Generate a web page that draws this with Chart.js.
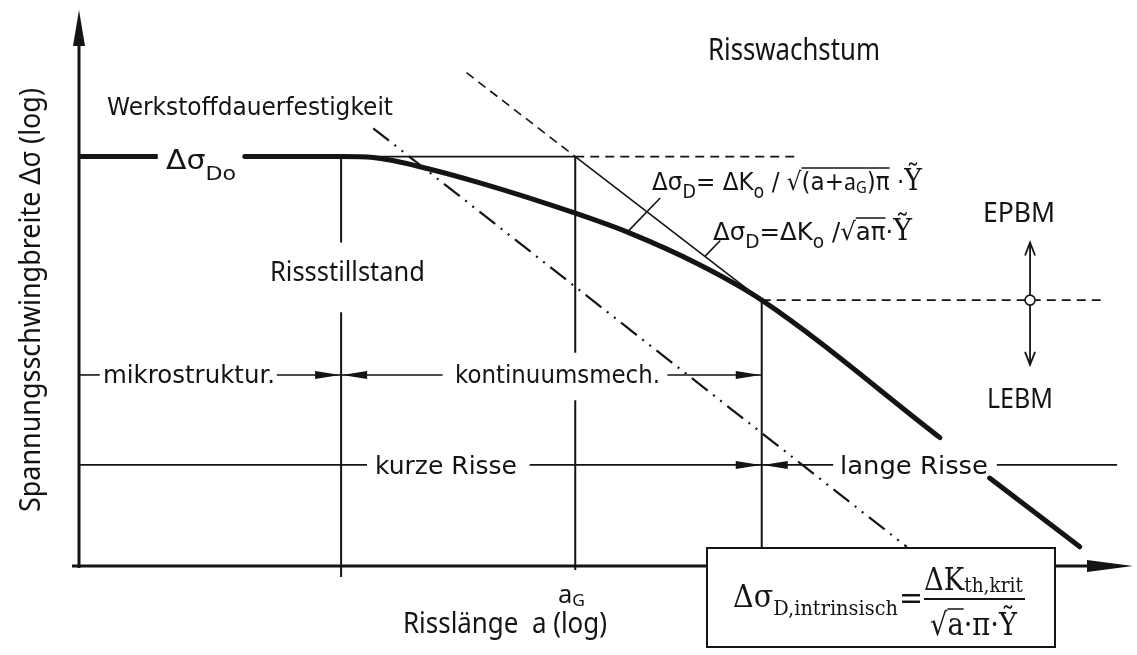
<!DOCTYPE html>
<html lang="de">
<head>
<meta charset="utf-8">
<title>Rissstillstand und Risswachstum</title>
<script src="https://cdn.jsdelivr.net/npm/chart.js@4.4.1/dist/chart.umd.min.js"></script>
<style>
  html, body { margin: 0; padding: 0; background: #fff; }
  #wrap { width: 1137px; height: 655px; }
</style>
</head>
<body>
<div id="wrap"><canvas id="kitagawa" width="1137" height="655"></canvas></div>
<script>
// schematische Achsen: x = log a, y = log Δσ
const achseA = [0, 100];
const achseS = [0, 55];

// Bereichsgrenzen: mikrostruktur. | a_G | lange Risse
const grenzenA = [25.3, 47.9, 65.9];
// Δσ_D0 und Übergang EPBM/LEBM
const niveauS = [40.5, 26.3];

// Dauerfestigkeitskurve (dick)
const kurveStartA = [0, 7.6];
const kurveA = [16.0, 25.3, 28.4, 32.9, 38.7, 47.9, 53.0, 59.9, 65.9, 83.1];
const kurveS = [40.5, 40.5, 40.4, 39.5, 37.9, 34.9, 33.0, 29.8, 26.3, 12.7];
const kurveEndeA = [87.9, 96.6];
const kurveEndeS = [8.7, 1.9];

// Tangente ΔK0 / sqrt(a π), oberes Stück gestrichelt
const tangenteA = [37.4, 47.9, 65.9];
const tangenteS = [48.8, 40.5, 26.3];

// Werkstoffdauerfestigkeit (Strich-Punkt-Punkt)
const intrinsA = [28.4, 79.9];
const intrinsS = [43.3, 1.9];

// waagerechte Linien auf Höhe Δσ_D0 und am Übergang
const niveauLinieA = [25.3, 47.9];
const niveauStrichA = [47.9, 69.3];
const uebergangA = [65.9, 99.0];

// Zeilen mit Bereichspfeilen
const zeilenS = [18.9, 10.0];
const zeileMikroA = [[0, 2.0], [19.1, 25.3], [25.3, 35.1], [56.8, 65.9]];
const zeileRisseA = [[0, 27.8], [43.5, 65.9], [65.9, 72.8], [88.6, 100.2]];

// senkrechte Linien je Bereichsgrenze (Lücken für Beschriftung)
const vertMikroS = [[40.5, 32.0], [25.1, -1.1]];
const vertGrenzS = [[40.5, 21.1], [16.4, -0.4]];
const vertLangS = [[26.3, 1.8]];

// EPBM / LEBM Doppelpfeil
const bruchA = 91.8;
const bruchS = [32.0, 19.9];

// Hinweislinien zu den Formeln
const hinweisA = [[52.9, 56.1], [60.4, 61.9]];
const hinweisS = [[33.0, 36.4], [30.6, 32.2]];

const SCHWARZ = '#141414';
const DIN = '"DejaVu Sans"';
const SANS = '"Noto Sans"';
const SERIF = '"DejaVu Serif"';

function punkte(xs, ys) {
    return xs.map((x, i) => ({ x: x, y: ys[i] }));
}

function linie(xs, ys, breite, strich) {
    return {
        data: punkte(xs, ys),
        showLine: true,
        borderColor: SCHWARZ,
        borderWidth: breite,
        borderDash: strich || [],
        pointRadius: 0,
        fill: false,
        clip: false
    };
}

const datasets = [];
// Kurve
datasets.push(linie(kurveStartA, [niveauS[0], niveauS[0]], 5));
const kurve = linie(kurveA, kurveS, 5);
kurve.cubicInterpolationMode = 'monotone';
kurve.borderCapStyle = 'round';
datasets.push(kurve);
const ende = linie(kurveEndeA, kurveEndeS, 5);
ende.borderCapStyle = 'round';
datasets.push(ende);
// Tangente
datasets.push(linie(tangenteA.slice(0, 2), tangenteS.slice(0, 2), 1.6, [9, 6]));
datasets.push(linie(tangenteA.slice(1), tangenteS.slice(1), 1.6));
// Werkstoffdauerfestigkeit
datasets.push(linie(intrinsA, intrinsS, 2.2, [20, 7, 2, 7, 2, 7]));
// Waagerechte
datasets.push(linie(niveauLinieA, [niveauS[0], niveauS[0]], 1.6));
datasets.push(linie(niveauStrichA, [niveauS[0], niveauS[0]], 1.6, [9, 6]));
datasets.push(linie(uebergangA, [niveauS[1], niveauS[1]], 1.6, [9, 6]));
// Zeilen
zeileMikroA.forEach(seg => datasets.push(linie(seg, [zeilenS[0], zeilenS[0]], 1.6)));
zeileRisseA.forEach(seg => datasets.push(linie(seg, [zeilenS[1], zeilenS[1]], 1.6)));
// Senkrechte
vertMikroS.forEach(seg => datasets.push(linie([grenzenA[0], grenzenA[0]], seg, 2)));
vertGrenzS.forEach(seg => datasets.push(linie([grenzenA[1], grenzenA[1]], seg, 2)));
vertLangS.forEach(seg => datasets.push(linie([grenzenA[2], grenzenA[2]], seg, 2)));
// EPBM/LEBM
datasets.push(linie([bruchA, bruchA], bruchS, 1.8));
hinweisA.forEach((xs, i) => datasets.push(linie(xs, hinweisS[i], 1.6)));
// Kreis am Übergang
datasets.push({
    data: [{ x: bruchA, y: niveauS[1] }],
    showLine: false,
    pointRadius: 5,
    pointBackgroundColor: '#fff',
    pointBorderColor: SCHWARZ,
    pointBorderWidth: 1.6,
    clip: false,
    order: -1
});

// Text aus mehreren Teilen, horizontal auf eine Breite gebracht
function schreibe(ctx, teile, x, y, breite, opt) {
    opt = opt || {};
    let gesamt = 0;
    teile.forEach(t => {
        ctx.font = t.f;
        t.w = ctx.measureText(t.t).width;
        gesamt += t.w;
    });
    const k = breite ? breite / gesamt : 1;
    ctx.save();
    ctx.translate(x, y);
    if (opt.rot) ctx.rotate(opt.rot);
    ctx.scale(k, 1);
    ctx.fillStyle = opt.farbe || SCHWARZ;
    ctx.strokeStyle = SCHWARZ;
    ctx.textBaseline = 'alphabetic';
    ctx.textAlign = 'left';
    let cx = 0;
    teile.forEach(t => {
        ctx.font = t.f;
        ctx.fillText(t.t, cx, t.dy || 0);
        if (t.ueber !== undefined) {
            ctx.lineWidth = 1.5;
            ctx.beginPath();
            ctx.moveTo(cx, t.ueber);
            ctx.lineTo(cx + t.w, t.ueber);
            ctx.stroke();
        }
        cx += t.w;
    });
    ctx.restore();
}

function pfeil(ctx, x, y, dx, dy, len, halb) {
    ctx.beginPath();
    ctx.moveTo(x, y);
    ctx.lineTo(x - dx * len - dy * halb, y - dy * len - dx * halb);
    ctx.lineTo(x - dx * len + dy * halb, y - dy * len + dx * halb);
    ctx.closePath();
    ctx.fill();
}

function spitze(ctx, x, y, dy) {
    ctx.beginPath();
    ctx.moveTo(x - 5, y - dy * 13);
    ctx.lineTo(x, y);
    ctx.lineTo(x + 5, y - dy * 13);
    ctx.stroke();
}

const hintergrund = {
    id: 'hintergrund',
    beforeDraw(chart) {
        const ctx = chart.ctx;
        ctx.save();
        ctx.fillStyle = '#fff';
        ctx.fillRect(0, 0, chart.width, chart.height);
        ctx.restore();
    }
};

const beschriftung = {
    id: 'beschriftung',
    afterDatasetsDraw(chart) {
        const ctx = chart.ctx;
        const X = v => chart.scales.x.getPixelForValue(v);
        const Y = v => chart.scales.y.getPixelForValue(v);
        ctx.save();
        ctx.fillStyle = SCHWARZ;
        ctx.strokeStyle = SCHWARZ;

        // Achsen mit Pfeilen
        const x0 = X(achseA[0]), y0 = Y(achseS[0]);
        const yTop = Y(achseS[1]);
        const xEnd = X(achseA[1]) + 18;
        ctx.lineWidth = 3;
        ctx.beginPath();
        ctx.moveTo(x0, y0 + 2);
        ctx.lineTo(x0, yTop + 20);
        ctx.moveTo(x0 - 7, y0);
        ctx.lineTo(xEnd - 20, y0);
        ctx.stroke();
        pfeil(ctx, x0, yTop, 0, -1, 36, 6);
        pfeil(ctx, xEnd, y0, 1, 0, 46, 6);

        // Bereichspfeile
        const ym = Y(zeilenS[0]), yr = Y(zeilenS[1]);
        pfeil(ctx, X(grenzenA[0]) - 1, ym, 1, 0, 25, 4);
        pfeil(ctx, X(grenzenA[0]) + 1, ym, -1, 0, 25, 4);
        pfeil(ctx, X(grenzenA[2]) - 1, ym, 1, 0, 25, 4);
        pfeil(ctx, X(grenzenA[2]) - 1, yr, 1, 0, 25, 4);
        pfeil(ctx, X(grenzenA[2]) + 1, yr, -1, 0, 25, 4);

        // EPBM / LEBM Spitzen
        ctx.lineWidth = 1.8;
        spitze(ctx, X(bruchA), Y(bruchS[0]), -1);
        spitze(ctx, X(bruchA), Y(bruchS[1]), 1);

        // Beschriftungen
        schreibe(ctx, [{ t: 'Risswachstum', f: `30px ${SANS}` }], 708, 60, 172);
        schreibe(ctx, [{ t: 'Werkstoffdauerfestigkeit', f: `25px ${DIN}` }], 107, 115, 286);
        schreibe(ctx, [
            { t: 'Δσ', f: `27px ${DIN}` },
            { t: 'Do', f: `20px ${DIN}`, dy: 11 }
        ], 166, 169, 70);
        schreibe(ctx, [{ t: 'Rissstillstand', f: `28px ${SANS}` }], 270, 281, 155);
        schreibe(ctx, [{ t: 'mikrostruktur.', f: `25px ${DIN}` }], 103, 383, 172);
        schreibe(ctx, [{ t: 'kontinuumsmech.', f: `25px ${DIN}` }], 455, 383, 205);
        schreibe(ctx, [{ t: 'kurze Risse', f: `25px ${DIN}` }], 375, 474, 142);
        schreibe(ctx, [{ t: 'lange Risse', f: `25px ${DIN}` }], 840, 474, 148);
        schreibe(ctx, [{ t: 'EPBM', f: `28px ${SANS}` }], 983, 222, 72);
        schreibe(ctx, [{ t: 'LEBM', f: `28px ${SANS}` }], 987, 408, 66);

        // Formeln an der Kurve
        schreibe(ctx, [
            { t: 'Δσ', f: `25px ${DIN}` },
            { t: 'D', f: `19px ${DIN}`, dy: 8 },
            { t: '= ΔK', f: `25px ${DIN}` },
            { t: 'o', f: `19px ${DIN}`, dy: 8 },
            { t: ' / ', f: `25px ${DIN}` },
            { t: '√', f: `25px ${DIN}` },
            { t: '(a+', f: `25px ${DIN}`, ueber: -22 },
            { t: 'a', f: `23px ${SANS}`, ueber: -22 },
            { t: 'G', f: `16px ${SANS}`, dy: 3, ueber: -22 },
            { t: ')π', f: `25px ${DIN}`, ueber: -22 },
            { t: ' ·', f: `25px ${DIN}` },
            { t: 'Ỹ', f: `29px ${SERIF}` }
        ], 652, 190, 270);
        schreibe(ctx, [
            { t: 'Δσ', f: `25px ${DIN}` },
            { t: 'D', f: `19px ${DIN}`, dy: 8 },
            { t: '=ΔK', f: `25px ${DIN}` },
            { t: 'o', f: `19px ${DIN}`, dy: 8 },
            { t: ' /', f: `25px ${DIN}` },
            { t: '√', f: `25px ${DIN}` },
            { t: 'aπ', f: `25px ${DIN}`, ueber: -22 },
            { t: '·', f: `25px ${DIN}` },
            { t: 'Ỹ', f: `29px ${SERIF}` }
        ], 713, 240, 199);

        // Achsentitel
        schreibe(ctx, [
            { t: 'a', f: `25px ${SANS}` },
            { t: 'G', f: `17px ${SANS}`, dy: 3 }
        ], 558, 603, 27);
        schreibe(ctx, [{ t: 'Risslänge  a (log)', f: `29px ${SANS}` }], 403, 633, 204);
        schreibe(ctx, [{ t: 'Spannungsschwingbreite Δσ (log)', f: `29px ${SANS}` }],
            40, 512, 424, { rot: -Math.PI / 2 });

        // Kasten mit intrinsischer Dauerfestigkeit
        ctx.fillStyle = '#fff';
        ctx.fillRect(707, 548, 348, 99);
        ctx.lineWidth = 2;
        ctx.strokeStyle = SCHWARZ;
        ctx.strokeRect(707, 548, 348, 99);
        ctx.fillStyle = SCHWARZ;
        schreibe(ctx, [
            { t: 'Δσ', f: `31px ${SERIF}` },
            { t: 'D,intrinsisch', f: `21px ${SERIF}`, dy: 8 }
        ], 733, 607, 165);
        schreibe(ctx, [{ t: '=', f: `31px ${SERIF}` }], 899, 609, 24);
        ctx.lineWidth = 2;
        ctx.beginPath();
        ctx.moveTo(924, 599);
        ctx.lineTo(1025, 599);
        ctx.stroke();
        schreibe(ctx, [
            { t: 'ΔK', f: `31px ${SERIF}` },
            { t: 'th,krit', f: `21px ${SERIF}`, dy: 2 }
        ], 924, 590, 99);
        schreibe(ctx, [
            { t: '√', f: `31px ${SERIF}` },
            { t: 'a', f: `31px ${SERIF}`, ueber: -26 },
            { t: '·π·Ỹ', f: `31px ${SERIF}` }
        ], 930, 635, 87);
        ctx.restore();
    }
};

new Chart(document.getElementById('kitagawa'), {
    type: 'scatter',
    data: { datasets: datasets },
    options: {
        responsive: false,
        animation: false,
        layout: { padding: { left: 79, right: 22, top: 10, bottom: 89 } },
        scales: {
            x: { type: 'linear', min: achseA[0], max: achseA[1], display: false },
            y: { type: 'linear', min: achseS[0], max: achseS[1], display: false }
        },
        plugins: {
            legend: { display: false },
            tooltip: { enabled: false }
        }
    },
    plugins: [hintergrund, beschriftung]
});
</script>
</body>
</html>
